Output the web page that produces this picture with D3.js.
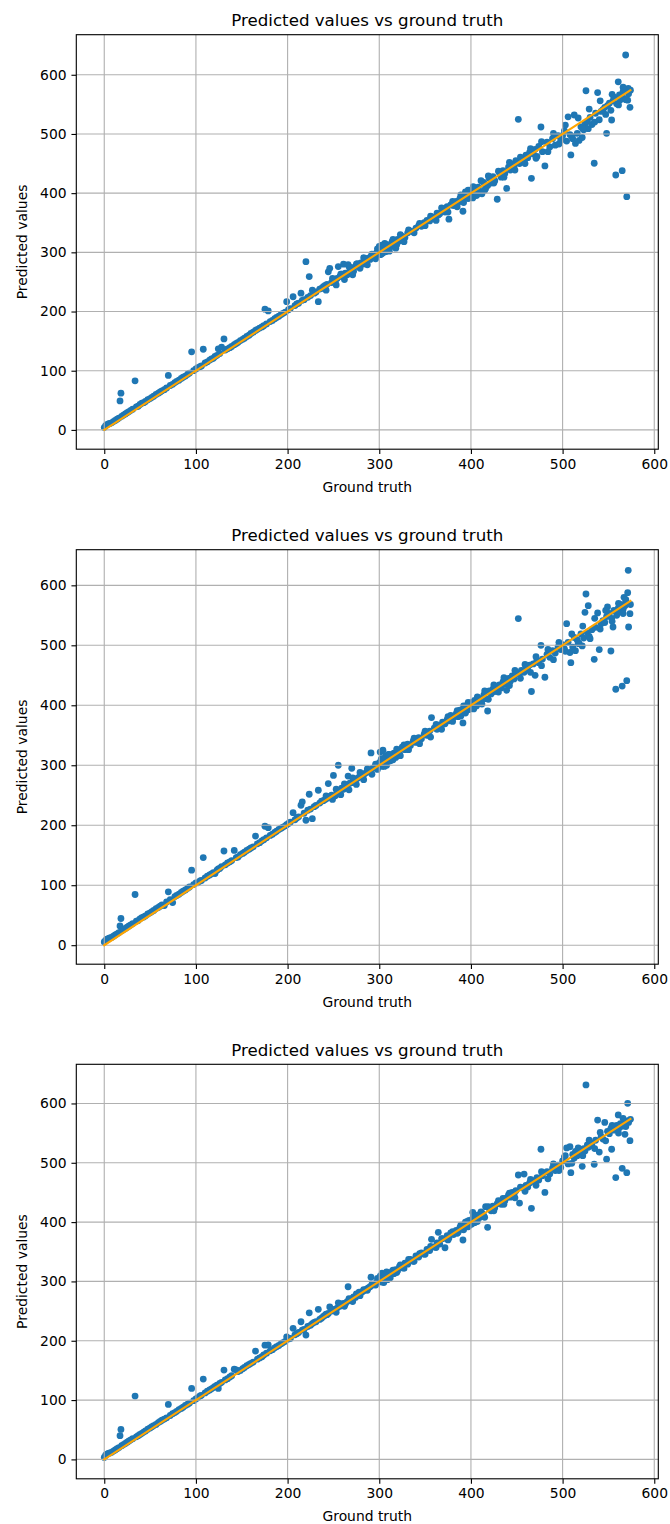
<!DOCTYPE html>
<html>
<head>
<meta charset="utf-8">
<script src="https://cdn.jsdelivr.net/npm/d3@7"></script>
<style>
  html, body { margin: 0; padding: 0; background: #fff; }
  svg { display: block; }
  text { font-family: "DejaVu Sans", sans-serif; fill: #000; }
</style>
</head>
<body>
<svg id="fig" width="670" height="1524"></svg>
<script>
// Ground truth of the test samples (shared by all three models)
const groundTruth = [
  0, 1.5, 3, 4.5, 6, 8, 10, 12, 14, 16, 17.2, 18.2, 19, 21, 23, 25, 27, 29, 31, 33.6,
  35, 37, 39, 41, 43, 45, 47.5, 50, 52, 54, 56.5, 59, 61, 63, 65.5, 68, 69.9, 72, 74.6, 77,
  79, 81.5, 84, 86, 88.5, 91, 93, 95.3, 97.5, 100,
  102, 104.5, 106, 108, 110, 112.5, 115, 117, 119, 120.8, 123, 124.4, 126, 128, 130.6, 132, 134.5, 137, 139, 141.8,
  144, 146, 148.5, 151, 153, 155.5, 158, 160, 162.5, 165, 167, 169.5, 172, 174, 175.3, 177, 178.9, 181, 183.5, 186,
  188, 190.5, 193, 195, 197.5, 199, 201,
  203, 206, 208, 210, 212, 214.6, 216, 218, 220, 222, 223.6, 225, 227, 229, 231, 233.5, 235, 237, 239, 241,
  243, 244.4, 246, 248, 250, 252, 254, 255.3, 257, 259, 261, 263, 265, 266, 268, 270, 272, 274, 276, 278,
  280, 282, 284, 286, 288, 290, 291, 293, 295, 297, 299,
  300, 301, 302, 303, 304, 305, 306, 307, 308, 309, 310, 312, 314, 316, 318, 320, 322, 325, 328, 331,
  334, 337, 340, 343, 346, 349, 352, 355, 357, 360, 363, 364.4, 366, 369, 371.7, 374, 376, 378, 381, 384,
  386, 388, 390, 391.3, 393, 395, 396, 397, 398, 399,
  400, 401, 402, 403, 404, 405, 406, 408, 410, 412, 414, 416, 418.2, 420, 422, 424, 426, 428.7, 431, 433,
  435, 437, 439, 441, 443, 445, 447, 449, 451.7, 453, 455, 458, 460, 462, 464, 466, 468, 470, 472, 474,
  476.4, 478, 480.7, 483, 486, 489, 492, 495, 498,
  500, 502, 504.4, 506, 508, 509, 511, 512.7, 514, 516, 518, 520, 521.4, 523, 524.4, 525.5, 527, 528, 530, 532,
  534.5, 536, 538.2, 540, 542, 544, 546, 548, 549, 551, 552.7, 553.5, 555, 556, 558, 559, 560.7, 562, 563, 565,
  566, 567, 568, 568.8, 570, 571, 571.6, 572, 573.5, 574,
  242, 249, 253, 258, 262, 267, 271, 275, 279, 283, 287, 292, 296, 298, 302.5, 305.5, 311, 315, 319, 323,
  327, 332, 338, 344, 350, 356, 362, 368, 375, 380, 385, 389, 392, 394, 397, 402.5, 407, 411, 415, 419,
  425, 430, 436, 442, 448, 454, 459, 465, 471, 477, 484, 490, 496, 503, 510, 517, 522, 529, 535, 541,
  547, 554, 561, 566, 569
];

// Predictions of the first model
const predictedA = [
  4, 7, 9, 10, 11, 12, 14, 16, 18, 20, 49, 62, 23, 25, 27, 29, 31, 33, 35, 83,
  39, 40, 43, 45, 46, 48, 51, 53, 55, 57, 60, 62, 64, 66, 68, 71, 92, 75, 77, 80,
  82, 84, 87, 89, 91, 94, 96, 132, 100, 103,
  105, 107, 108, 136.3, 113, 115, 118, 120, 121, 124, 126, 137, 129, 140, 153.7, 135, 137, 139, 141, 144,
  146, 148, 151, 153, 155, 158, 160, 163, 165, 168, 170, 172, 174, 176, 204, 179, 201, 183, 185, 188,
  190, 192, 195, 197, 199, 216.7, 203,
  205, 225, 210, 213, 214, 231, 219, 220, 284.3, 224, 259, 227, 236, 231, 233, 216.7, 238, 239, 242, 244,
  246, 267, 273, 249, 251, 250, 256, 276, 259, 263, 280, 265, 262, 279, 270, 274, 268, 276, 281, 277,
  282, 280, 287, 284, 290, 288, 293, 295, 296, 299, 300,
  310, 296, 305, 312, 299, 308, 315, 301, 306, 313, 304, 309, 318, 311, 307, 322, 319, 327, 325, 333,
  336, 335, 341, 345, 344, 350, 354, 353, 360, 358, 366, 363, 365, 370, 368, 377, 356, 380, 379, 386,
  384, 391, 388, 369.4, 395, 392, 399, 405, 394, 401,
  395, 404, 392, 398, 409, 401, 396, 410, 403, 399, 418, 408, 413, 425, 417, 428, 421, 389.7, 435, 427,
  438, 433, 408, 444, 439, 449, 445, 455, 524.8, 450, 459, 453, 464, 460, 469, 425, 466, 474, 462, 479,
  511.8, 470, 446, 486, 478, 492, 481, 497, 489,
  497, 505, 488, 529, 499, 464.5, 492, 532, 484, 501, 489, 512, 494, 507, 517, 573, 521, 509, 528, 516,
  450.5, 535, 570, 524, 538, 541, 545, 501, 548, 552, 540, 523.6, 556, 562, 430.7, 551, 588, 566, 558, 438,
  572, 560, 575, 633.4, 394, 557, 577, 568, 545, 574,
  236, 256, 245, 263, 254, 276, 262, 280, 273, 291, 279, 297, 289, 306, 297, 312, 302, 322, 313, 330,
  318, 338, 333, 349, 345, 361, 354, 375, 368, 386, 377, 397, 384, 402, 391, 411, 398, 421, 405, 429,
  417, 437, 427, 452, 439, 461, 450, 475, 459, 487, 470, 501, 483, 515, 496, 527, 509, 542, 520, 556,
  533, 567, 549, 579, 558
];

// Predictions of the second model
const predictedB = [
  5.5, 8, 10, 11, 12, 13, 15, 17, 19, 21, 32, 44.5, 24, 26, 28, 30, 32, 34, 36, 84.5,
  40, 41, 44, 46, 47, 49, 52, 54, 56, 58, 61, 63, 65, 67, 66, 72, 89, 76, 71, 81,
  83, 85, 88, 90, 92, 95, 97, 125, 101, 104,
  104, 107, 108, 146, 112, 115, 117, 119, 121, 119.5, 125, 127, 128, 131, 157, 134, 137, 139, 141, 158,
  146, 147, 151, 153, 155, 158, 160, 162, 164, 182, 169, 171, 174, 176, 198.3, 179, 196, 183, 185, 188,
  190, 193, 195, 197, 199, 201, 203,
  205, 221, 209, 212, 214, 233.3, 239, 220, 208.3, 225, 251.7, 227, 211, 231, 233, 258.3, 237, 240, 241, 243,
  245, 269.4, 248, 250, 283, 249, 256, 300, 257, 262, 260, 266, 264, 282, 270, 295, 271, 276, 278, 280,
  283, 281, 286, 288, 290, 292, 320.5, 295, 297, 298, 301,
  304, 322, 309, 298, 325, 311, 303, 316, 300, 312, 318, 307, 316, 320, 313, 325, 323, 330, 326, 335,
  333, 340, 338, 346, 344, 352, 350, 357, 379.5, 362, 360, 367, 364, 372, 369, 376, 374, 383, 380, 386,
  381, 392, 387, 370.5, 396, 391, 400, 398, 393, 402,
  398, 405, 401, 394, 408, 403, 399, 412, 406, 402, 417, 411, 390.5, 424, 419, 427, 423, 431, 434, 429,
  439, 435, 425, 445, 440, 449, 444, 453, 544.5, 452, 458, 455, 463, 459, 467, 423, 469, 450, 475, 471,
  500, 477, 446.7, 485, 480, 491, 487, 497, 493,
  501, 494, 536, 505, 488, 471, 497, 513, 491, 509, 503, 519, 499, 512, 555, 585.5, 521, 566, 511, 526,
  476.7, 530, 554, 492.8, 536, 541, 538, 548, 564, 553, 490.5, 545, 530.5, 558, 426.7, 550, 562, 556, 568, 432,
  560, 580, 566, 572, 441, 587.8, 625, 530.5, 552.8, 568,
  249, 243, 260, 251, 269, 259, 279, 268, 288, 276, 294, 285, 302, 293, 311, 298, 318, 309, 327, 316,
  334, 326, 345, 336, 357, 347, 368, 360, 381, 373, 391, 382, 399, 387, 405, 396, 414, 403, 424, 410,
  434, 422, 446, 433, 458, 445, 468, 455, 481, 466, 493, 476, 505, 490, 519, 503, 532, 515, 545, 527,
  558, 540, 570, 553, 576
];

// Predictions of the third model
const predictedC = [
  3.4, 7, 9, 10, 11, 12, 14, 16, 18, 20, 40, 50.6, 23, 25, 27, 29, 31, 33, 35, 106.7,
  38, 40, 42, 44, 46, 48, 51, 53, 55, 57, 59, 62, 64, 66, 68, 70, 92.7, 74, 77, 79,
  81, 84, 86, 88, 91, 93, 95, 119.7, 99, 102,
  104, 107, 108, 135.4, 112, 115, 117, 119, 121, 123, 125, 119.7, 128, 130, 150.6, 134, 136, 139, 141, 152,
  151, 148, 150, 153, 155, 158, 160, 162, 164, 182.6, 169, 171, 173, 176, 192.5, 179, 193, 183, 185, 188,
  190, 192, 195, 197, 199, 206.7, 203,
  204, 221, 210, 212, 214, 232, 218, 219, 209.6, 224, 247, 226, 229, 231, 232, 253, 236, 238, 241, 243,
  244, 246, 257, 250, 251, 253, 255, 264, 258, 260, 263, 262, 266, 291, 269, 271, 274, 273, 277, 282,
  281, 283, 285, 287, 289, 291, 307, 294, 296, 298, 300,
  303, 309, 300, 314, 305, 298, 311, 308, 316, 303, 313, 306, 317, 313, 320, 318, 325, 323, 331, 329,
  337, 334, 343, 341, 348, 346, 354, 352, 371, 358, 365, 382.8, 363, 372, 356.8, 377, 373, 382, 379, 386,
  383, 391, 388, 369.8, 397, 392, 401, 396, 403, 395,
  401, 397, 416.5, 404, 399, 409, 403, 412, 408, 415, 411, 426, 391.2, 423, 419, 427, 424, 431, 435, 430,
  440, 436, 441, 446, 442, 450, 447, 453, 479.4, 432, 458, 481, 462, 459, 466, 423.3, 470, 467, 475, 471,
  522.8, 478, 450, 485, 481, 491, 487, 496, 492,
  503, 510, 525, 498, 527, 483.3, 514, 508, 519, 512, 522, 516, 494, 524, 520, 631.2, 530, 526, 534, 529,
  497.5, 538, 572, 518, 544, 540, 568, 506, 553, 549, 558, 522.8, 560, 555, 475, 563, 580.6, 559, 566, 490.7,
  562, 570, 548, 566, 483.3, 600.3, 571, 568, 537.3, 573.3,
  245, 253, 248, 262, 258, 271, 266, 279, 276, 286, 285, 295, 294, 305, 299, 311, 306, 319, 315, 328,
  322, 337, 334, 347, 346, 359, 357, 372, 370, 384, 381, 395, 387, 400, 392, 409, 401, 417, 408, 426,
  419, 436, 430, 449, 441, 459, 452, 472, 462, 485, 473, 498, 487, 512, 499, 525, 512, 538, 524, 551,
  537, 563, 550, 575, 561
];

const xTicks = [0, 100, 200, 300, 400, 500, 600];
const yTicks = [0, 100, 200, 300, 400, 500, 600];
const chartTitle = "Predicted values vs ground truth";
const xLabel = "Ground truth";
const yLabel = "Predicted values";

// Axis limits of each subplot
const xDomain = [-30.5, 604.4];
const yDomains = [[-32.6, 667.7], [-31.7, 659.4], [-32.7, 666.0]];

const predictions = [predictedA, predictedB, predictedC];

// Layout (pixels)
const axLeft = 76.3, axRight = 658.3, axHeight = 414.5;
const axTops = [34.7, 549.7, 1064.3];
const pt = 100 / 72;                 // figure rendered at 100 dpi
const tickLen = 3.5 * pt, tickPad = 3.5 * pt;
const fontSmall = 10 * pt, fontTitle = 12 * pt;
const scatterColor = "#1f77b4", lineColor = "#ffa500", gridColor = "#b0b0b0";

const svg = d3.select("#fig");

predictions.forEach((pred, i) => {
  const top = axTops[i], bottom = top + axHeight;
  const x = d3.scaleLinear().domain(xDomain).range([axLeft, axRight]);
  const y = d3.scaleLinear().domain(yDomains[i]).range([bottom, top]);
  const g = svg.append("g");

  const points = groundTruth.map((gt, k) => ({ gt, p: pred[k] }));

  // scatter of predictions
  g.append("g").selectAll("circle").data(points).join("circle")
    .attr("cx", d => x(d.gt)).attr("cy", d => y(d.p))
    .attr("r", 3.4).attr("fill", scatterColor);

  // grid lines
  const grid = g.append("g").attr("stroke", gridColor).attr("stroke-width", 0.8 * pt);
  grid.selectAll("line.gx").data(xTicks).join("line").attr("class", "gx")
    .attr("x1", d => x(d)).attr("x2", d => x(d)).attr("y1", top).attr("y2", bottom);
  grid.selectAll("line.gy").data(yTicks).join("line").attr("class", "gy")
    .attr("y1", d => y(d)).attr("y2", d => y(d)).attr("x1", axLeft).attr("x2", axRight);

  // identity reference line
  const ext = d3.extent(groundTruth);
  g.append("line")
    .attr("x1", x(ext[0])).attr("y1", y(ext[0]))
    .attr("x2", x(ext[1])).attr("y2", y(ext[1]))
    .attr("stroke", lineColor).attr("stroke-width", 1.5 * pt).attr("stroke-linecap", "square");

  // axes
  const xAxis = d3.axisBottom(x).tickValues(xTicks).tickSize(tickLen).tickPadding(tickPad).tickSizeOuter(0);
  const yAxis = d3.axisLeft(y).tickValues(yTicks).tickSize(tickLen).tickPadding(tickPad).tickSizeOuter(0);
  const gx = g.append("g").attr("transform", `translate(0,${bottom})`).call(xAxis);
  const gy = g.append("g").attr("transform", `translate(${axLeft},0)`).call(yAxis);
  [gx, gy].forEach(a => {
    a.select(".domain").remove();
    a.selectAll(".tick line").attr("stroke", "#000").attr("stroke-width", 0.8 * pt);
    a.selectAll(".tick text").attr("font-family", "DejaVu Sans").attr("font-size", fontSmall).attr("fill", "#000");
  });

  // spines
  g.append("rect").attr("x", axLeft).attr("y", top)
    .attr("width", axRight - axLeft).attr("height", axHeight)
    .attr("fill", "none").attr("stroke", "#000").attr("stroke-width", 0.8 * pt);

  // title and axis labels
  g.append("text").attr("x", (axLeft + axRight) / 2).attr("y", top - 6 * pt)
    .attr("text-anchor", "middle").attr("font-size", fontTitle).text(chartTitle);
  g.append("text").attr("x", (axLeft + axRight) / 2).attr("y", bottom + 42.4)
    .attr("text-anchor", "middle").attr("font-size", fontSmall).text(xLabel);
  g.append("text").attr("transform", `translate(27,${(top + bottom) / 2}) rotate(-90)`)
    .attr("text-anchor", "middle").attr("font-size", fontSmall).text(yLabel);
});
</script>
</body>
</html>
